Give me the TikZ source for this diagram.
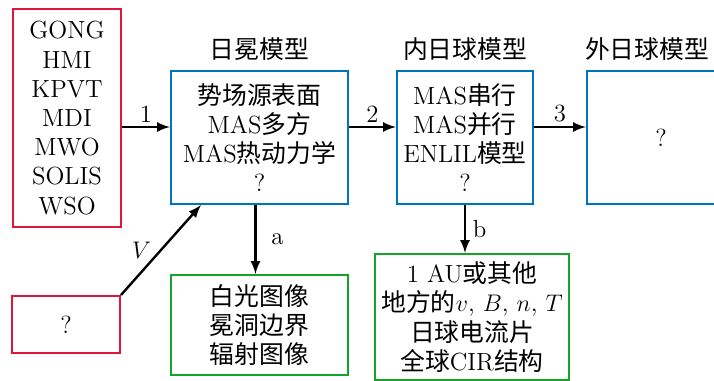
\documentclass[tikz,border=0pt]{standalone}
\usepackage{fontspec}
\newfontfamily\cjk{Noto Sans CJK SC}
\usetikzlibrary{positioning,arrows.meta}
\definecolor{datared}{RGB}{225,20,60}
\definecolor{modelblue}{RGB}{0,115,190}
\definecolor{outgreen}{RGB}{20,165,40}
\newcommand\zh[1]{{\cjk #1}}
\tikzset{
  databox/.style={draw=datared, line width=1pt, align=center, inner sep=0pt},
  modelbox/.style={draw=modelblue, line width=1pt, align=center, inner sep=0pt},
  outbox/.style={draw=outgreen, line width=1pt, align=center, inner sep=0pt},
  flow/.style={->, line width=1.2pt},
  boxtitle/.style={above=1pt}
}
\begin{document}
\begin{tikzpicture}[>=latex, x=0.5pt, y=-0.5pt,
  every node/.style={font=\fontsize{12.4}{14.6}\selectfont}]
\useasboundingbox (0,0) rectangle (714,381);

% sources
\node[databox, minimum width=54pt, minimum height=109pt] (obs) at (67,118)
  {GONG\\HMI\\KPVT\\MDI\\MWO\\SOLIS\\WSO};
\node[databox, minimum width=54pt, minimum height=28.5pt] (src) at (66,324.5) {?};

% models
\node[modelbox, minimum width=88.5pt, minimum height=66.5pt] (corona) at (259.5,137.5)
  {\zh{势场源表面}\\MAS\zh{多方}\\MAS\zh{热动力学}\\?};
\node[boxtitle] at (corona.north) {\zh{日冕模型}};

\node[modelbox, minimum width=68pt, minimum height=66.5pt] (inner) at (465,137.5)
  {MAS\zh{串行}\\MAS\zh{并行}\\ENLIL\zh{模型}\\?};
\node[boxtitle] at (inner.north) {\zh{内日球模型}};

\node[modelbox, minimum width=74pt, minimum height=66.5pt] (outer) at (661,137.5) {?};
\node[boxtitle] at ([xshift=-7pt]outer.north) {\zh{外日球模型}};

% outputs
\node[outbox, minimum width=88.5pt, minimum height=50pt] (img) at (259.5,325)
  {\zh{白光图像}\\\zh{冕洞边界}\\\zh{辐射图像}};
\node[outbox, minimum width=97pt, minimum height=63pt] (insitu) at (472,317)
  {1 AU\zh{或其他}\\\zh{地方的}$v$, $B$, $n$, $T$\\\zh{日球电流片}\\\zh{全球}CIR\zh{结构}};

% connectors
\coordinate (row) at (0,127);
\draw[flow] (obs.east |- row) -- node[above=-1.5pt] {1} (corona.west |- row);
\draw[flow] (corona.east |- row) -- node[above=-1.5pt] {2} (inner.west |- row);
\draw[flow] (inner.east |- row) -- node[above=-1.5pt] {3} (outer.west |- row);
\draw[flow] ([xshift=-2pt]corona.south) -- node[right=4pt] {a} ([xshift=-2pt]img.north);
\draw[flow] (inner.south) -- node[right] {b} (inner.south |- insitu.north);
\draw[flow] (src.north east) -- node[left=1pt] {$V$} ([xshift=15.5pt]corona.south west);
\end{tikzpicture}
\end{document}
